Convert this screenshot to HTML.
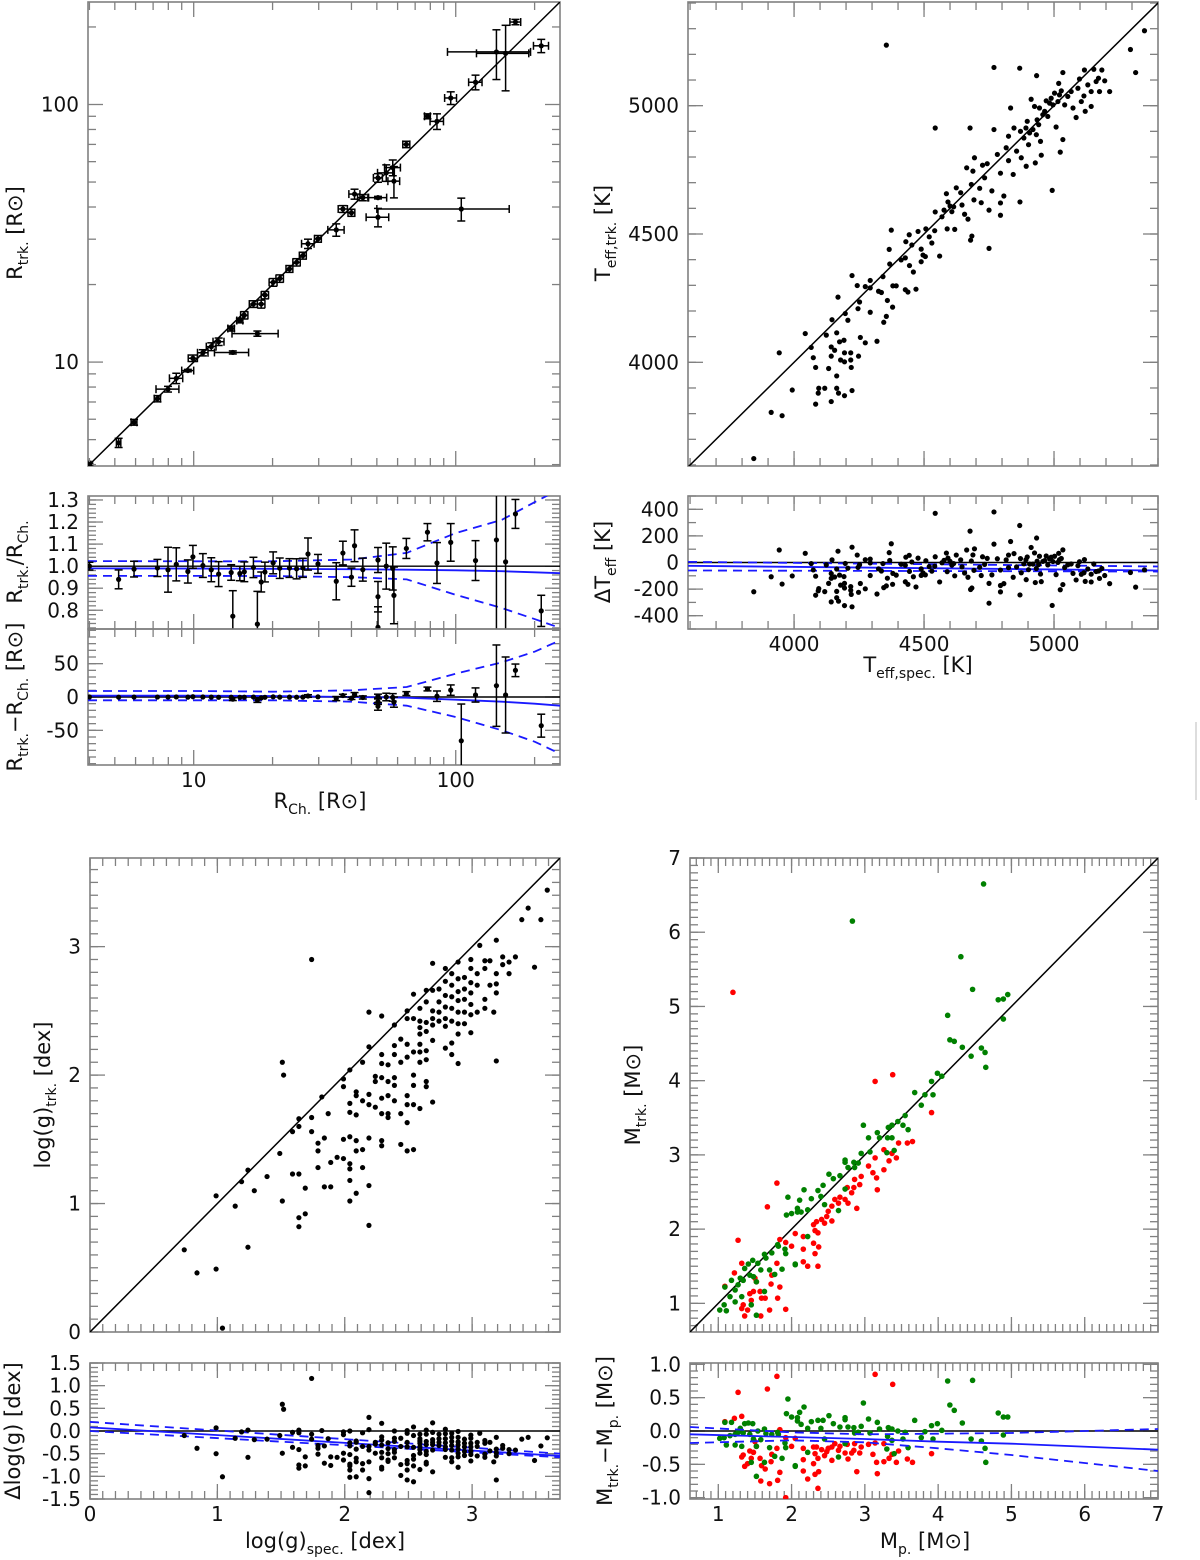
<!DOCTYPE html>
<html><head><meta charset="utf-8">
<style>
html,body{margin:0;padding:0;background:#fff;}
svg{display:block;font-family:"DejaVu Sans","Liberation Sans",sans-serif;}
</style></head>
<body>
<svg id="fig" width="1200" height="1560" viewBox="0 0 1200 1560" xmlns="http://www.w3.org/2000/svg">
<line x1="1196" y1="722" x2="1196" y2="800" stroke="#bbb" stroke-width="1"/>
</svg>
<script>
// ---------- Radius panel data ----------
const rCh  = [4.0,5.17,5.92,7.27,7.98,8.58,9.5,9.93,10.84,11.67,12.45,14.1,13.9,15.0,17.5,15.6,16.9,18.1,18.7,20.1,21.3,23.2,24.7,26.1,27.3,29.8,35.0,37.1,40.0,41.1,44.2,50.5,50.5,50.5,54.3,57.5,58.1,64.8,78.0,84.8,95.7,105,119,143,155,169,212];
const rTrk = [4.0,4.86,5.84,7.21,7.85,8.65,9.27,10.35,10.87,11.48,12.0,10.9,13.5,14.5,12.9,15.2,16.8,16.8,18.2,20.4,21.1,23.0,24.4,25.9,28.8,30.1,32.6,39.3,38.0,44.9,43.5,43.5,36.5,51.9,54.3,56.9,50.4,70.0,90.0,86.0,106,39.3,122,160,158,209,169];
const rErrX = [0.05,0.1,0.15,0.2,0.8,0.5,0.5,0.4,0.5,0.5,0.6,2.1,0.4,0.4,3.5,0.5,0.6,0.6,0.6,0.7,0.7,0.7,0.8,0.8,1.5,0.9,2.5,1.5,1.2,2,2,4,5,2,4,4,3,2,2,5,5,55,7,50,35,8,14];
const rErrY = [0.05,0.2,0.15,0.2,0.2,0.4,0.1,0.3,0.3,0.4,0.4,0.15,0.3,0.3,0.3,0.5,0.5,0.6,0.6,0.7,0.7,0.7,0.8,0.8,1.2,0.9,1.8,1.2,1.2,2,1.2,0.5,3,2,4,4,7,2,2,6,6,4,8,35,45,5,10];
const fitRX   = [3.95,10,20,40,65,100,150,200,250];
const fitRatM = [0.99,0.989,0.988,0.986,0.984,0.981,0.977,0.972,0.968];
const fitRatH = [1.023,1.022,1.022,1.03,1.06,1.15,1.21,1.29,1.35];
const fitRatL = [0.956,0.956,0.955,0.95,0.94,0.87,0.81,0.76,0.72];
const fitDifM = [2,2,1.5,0,-1,-4,-7,-10,-13];
const fitDifH = [9,9,8,10,15,35,52,68,85];
const fitDifL = [-5,-5,-5,-7,-13,-30,-50,-67,-85];

// ---------- Teff panel data ----------
const tSpec = [3845,3912,3954,3943,3993,4043,4066,4074,4083,4083,4093,4095,4118,4124,4133,4143,4143,4143,4146,4156,4164,4164,4164,4169,4171,4175,4179,4192,4194,4194,4194,4197,4207,4218,4218,4220,4223,4223,4243,4246,4248,4252,4255,4274,4274,4293,4293,4293,4319,4325,4336,4342,4345,4355,4359,4366,4368,4374,4379,4380,4393,4412,4428,4428,4438,4430,4443,4444,4453,4459,4469,4477,4489,4489,4496,4505,4507,4520,4530,4541,4543,4543,4560,4569,4577,4586,4589,4592,4600,4607,4614,4618,4624,4641,4646,4656,4664,4669,4677,4679,4682,4684,4688,4692,4694,4714,4720,4725,4733,4743,4750,4750,4761,4769,4769,4782,4794,4794,4794,4807,4816,4825,4825,4833,4843,4846,4856,4868,4869,4871,4874,4884,4892,4893,4897,4902,4906,4912,4919,4925,4928,4932,4933,4935,4941,4944,4948,4951,4957,4964,4970,4976,4983,4989,4993,4996,5002,5008,5015,5018,5021,5024,5028,5034,5034,5041,5053,5066,5073,5085,5092,5098,5105,5115,5117,5120,5130,5143,5143,5153,5162,5171,5175,5184,5195,5214,5294,5314,5348,4355];
const tTrk  = [3625,3805,3792,4037,3892,4112,4058,4018,3980,3837,3880,3899,3899,4106,3976,4060,4024,3847,4166,4047,4115,3947,3899,4254,3880,4080,4009,4086,4037,4002,3870,4190,4164,4037,4009,3980,3890,4338,4299,4209,4024,4235,4097,4295,4076,4319,4195,4290,4082,4277,4272,4334,4156,4179,4241,4440,4383,4515,4215,4298,4298,4399,4407,4283,4274,4470,4497,4377,4457,4352,4285,4510,4441,4392,4418,4412,4520,4489,4465,4513,4586,4913,4414,4567,4593,4657,4520,4625,4609,4587,4606,4518,4680,4661,4613,4577,4758,4558,4913,4476,4693,4492,4745,4633,4797,4678,4622,4768,4719,4774,4593,4444,4668,4907,5149,4810,4737,4621,4573,4648,4836,4786,4881,4991,4732,4913,4823,5146,4625,4900,4797,4874,4913,4764,4939,4848,4894,5025,4907,4997,4777,4887,5117,4945,4926,4991,4861,4807,4965,4978,5019,4958,5010,5029,4670,5003,5049,4917,5016,5087,5042,4819,5058,5129,4868,5003,5036,5055,4991,4954,5068,5104,5016,5038,5139,4978,5081,5055,4997,5142,5094,5107,5055,5139,5097,5055,5219,5129,5292,5236];
const fitTX = [3592,5400];
const fitTM = [-25,-60];
const fitTH = [5,-30];
const fitTL = [-60,-68];

// ---------- log g panel data ----------
const gSpec = [0.74,0.84,0.99,0.99,1.04,1.14,1.19,1.24,1.24,1.29,1.39,1.49,1.51,1.52,1.51,1.59,1.59,1.64,1.64,1.64,1.64,1.64,1.69,1.69,1.74,1.74,1.74,1.79,1.79,1.79,1.82,1.84,1.84,1.87,1.89,1.89,1.94,1.99,1.99,1.99,1.99,2.04,2.04,2.04,2.04,2.04,2.04,2.04,2.04,2.09,2.09,2.09,2.09,2.09,2.09,2.14,2.14,2.14,2.14,2.19,2.19,2.19,2.19,2.19,2.19,2.19,2.24,2.24,2.24,2.29,2.29,2.29,2.29,2.29,2.29,2.29,2.29,2.34,2.34,2.34,2.34,2.34,2.39,2.39,2.39,2.39,2.39,2.39,2.44,2.44,2.44,2.44,2.49,2.49,2.49,2.49,2.49,2.49,2.49,2.49,2.54,2.54,2.54,2.54,2.54,2.54,2.54,2.59,2.59,2.59,2.59,2.59,2.59,2.59,2.59,2.64,2.64,2.64,2.64,2.64,2.64,2.64,2.64,2.69,2.69,2.69,2.69,2.69,2.69,2.69,2.74,2.74,2.74,2.74,2.79,2.79,2.79,2.79,2.79,2.79,2.79,2.84,2.84,2.84,2.84,2.84,2.84,2.84,2.89,2.89,2.89,2.89,2.89,2.89,2.89,2.89,2.94,2.94,2.94,2.94,2.94,2.99,2.99,2.99,2.99,2.99,2.99,2.99,3.04,3.04,3.04,3.06,3.10,3.10,3.10,3.10,3.14,3.14,3.17,3.19,3.19,3.19,3.19,3.19,3.24,3.24,3.29,3.29,3.34,3.39,3.44,3.49,3.54,3.59];
const gTrk  = [0.64,0.46,0.49,1.06,0.03,0.98,1.17,1.26,0.66,1.10,1.21,1.39,2.10,2.00,1.02,1.23,1.56,1.23,1.60,1.66,0.89,0.82,1.12,0.92,1.67,2.90,1.56,1.47,1.41,1.28,1.83,1.51,1.13,1.70,1.32,1.13,1.36,1.97,1.50,1.35,1.91,2.04,1.78,1.71,1.52,1.31,1.27,1.18,1.02,1.87,1.84,1.69,1.49,1.41,1.08,2.10,1.80,1.42,1.28,2.49,2.22,1.85,1.77,1.51,1.14,0.83,1.99,1.95,1.75,2.46,2.16,2.09,1.98,1.82,1.70,1.49,1.45,2.08,1.95,1.84,1.70,1.67,2.39,2.23,2.16,1.98,1.92,1.80,2.28,2.10,1.70,1.46,2.50,2.44,2.24,2.14,1.84,1.77,1.63,1.41,2.63,2.44,2.18,2.00,1.92,1.77,1.42,2.52,2.42,2.37,2.32,2.24,2.18,2.10,1.74,2.66,2.57,2.41,2.34,2.19,2.12,1.95,1.91,2.87,2.66,2.50,2.44,2.39,2.27,1.79,2.67,2.57,2.49,2.42,2.83,2.73,2.62,2.53,2.44,2.38,2.21,2.79,2.70,2.61,2.52,2.42,2.25,2.16,2.88,2.75,2.65,2.58,2.49,2.40,2.32,2.09,2.76,2.67,2.59,2.49,2.40,2.90,2.83,2.72,2.64,2.55,2.47,2.33,2.79,2.70,2.49,3.01,2.89,2.83,2.59,2.52,2.89,2.70,2.49,3.05,2.79,2.71,2.64,2.11,2.92,2.86,2.88,2.79,2.92,3.21,3.30,2.84,3.21,3.44];
const fitGX = [0,3.69];
const fitGM = [0.08,-0.55];
const fitGH = [0.2,-0.5];
const fitGL = [0.0,-0.58];

// ---------- Mass panel data ----------
const mpG = [4.62,2.83,4.31,4.47,4.82,4.89,4.95,4.89,4.13,4.16,4.22,4.33,4.45,4.59,4.64,4.65,3.99,4.05,3.91,3.68,3.82,3.93,3.77,3.55,3.45,3.37,3.32,3.52,3.59,2.98,3.17,3.05,3.20,3.31,3.37,2.95,3.07,3.30,3.40,2.73,2.85,2.73,2.77,2.91,2.86,2.51,2.57,2.66,2.73,2.43,2.36,2.17,2.40,2.27,1.95,2.11,2.45,2.64,2.08,2.22,1.93,2.00,2.08,2.13,1.82,1.91,1.73,1.92,1.63,1.65,1.54,1.58,1.47,1.41,1.36,1.30,1.34,1.43,1.48,1.52,1.27,1.23,1.18,1.09,1.16,1.08,1.02,1.11,1.23,1.32,1.45,1.52,1.63,1.87,2.05,2.05,1.77,1.70,2.22,1.81];
const mtG = [6.65,6.15,5.67,5.23,5.09,5.10,5.16,4.83,4.88,4.55,4.53,4.45,4.33,4.44,4.38,4.18,4.10,4.06,3.99,3.84,3.81,3.81,3.67,3.53,3.45,3.40,3.37,3.40,3.34,3.40,3.30,3.23,3.23,3.23,3.23,3.02,3.04,3.03,3.06,2.93,2.90,2.90,2.83,2.89,2.83,2.74,2.68,2.72,2.54,2.59,2.52,2.53,2.44,2.41,2.43,2.39,2.33,2.25,2.28,2.26,2.19,2.21,2.23,2.23,1.77,1.73,1.68,1.67,1.66,1.61,1.54,1.45,1.58,1.53,1.47,1.34,1.31,1.38,1.36,1.29,1.25,1.18,1.31,1.22,1.09,0.98,0.91,0.90,1.02,1.09,0.98,0.84,1.16,1.46,1.53,1.52,1.39,1.45,1.90,1.79];
const mpR = [1.20,3.14,3.38,3.91,3.58,3.65,3.46,3.26,3.37,3.43,3.33,3.26,3.14,3.11,3.16,3.05,2.95,2.86,2.93,2.85,2.76,3.17,2.82,2.73,2.77,2.89,2.66,2.59,2.64,2.55,2.50,2.48,2.45,2.41,2.55,2.34,2.30,2.36,2.32,2.16,2.05,2.00,1.92,1.84,1.80,1.67,2.16,2.30,2.37,2.32,2.16,2.22,2.36,1.80,1.73,1.72,1.84,1.81,1.92,1.70,1.59,1.64,1.57,1.48,1.43,1.52,1.50,1.32,1.27,1.22,1.09,1.34,1.32,1.36,1.58,1.40,1.45];
const mtR = [5.19,3.99,4.08,3.57,3.16,3.18,3.16,3.07,3.02,2.96,2.92,2.80,2.96,2.76,2.69,2.85,2.71,2.67,2.60,2.56,2.56,2.53,2.49,2.40,2.35,2.28,2.43,2.40,2.35,2.31,2.24,2.17,2.08,2.13,2.11,2.10,2.06,1.95,1.98,1.90,1.94,1.77,1.82,1.86,2.62,2.30,1.73,1.81,1.76,1.67,1.56,1.50,1.50,1.54,1.38,1.26,1.22,1.07,0.92,0.91,1.07,1.07,1.16,1.16,1.13,1.29,1.34,1.54,1.85,1.41,1.23,0.98,0.93,0.83,0.83,0.91,1.04];
const fitMX = [0.614,2,3,4,5,7];
const fitMM = [-0.05,-0.09,-0.12,-0.16,-0.19,-0.28];
const fitMH = [0.06,-0.02,-0.05,-0.04,-0.03,0.03];
const fitML = [-0.18,-0.14,-0.17,-0.26,-0.36,-0.60];

// ---------- drawing helpers ----------
const NS = "http://www.w3.org/2000/svg";
const svg = document.getElementById('fig');
function mk(tag, attrs, parent) {
  const e = document.createElementNS(NS, tag);
  for (const k in attrs) e.setAttribute(k, attrs[k]);
  (parent || svg).appendChild(e);
  return e;
}
function linS(d0, d1, p0, p1) { return v => p0 + (v - d0) / (d1 - d0) * (p1 - p0); }
function logS(d0, d1, p0, p1) { return v => p0 + (Math.log10(v) - Math.log10(d0)) / (Math.log10(d1) - Math.log10(d0)) * (p1 - p0); }
let clipId = 0;

function panel(name, P) {
  const g = mk('g', {});
  
  
  const id = 'clip' + (clipId++);
  const cp = mk('clipPath', {id: id}, g);
  mk('rect', {x: P.x0, y: P.y0, width: P.x1 - P.x0, height: P.y1 - P.y0}, cp);
  const tg = mk('g', {stroke: '#808080', 'stroke-width': 1.3}, g);
  
  
  function xt(v, len) {
    const x = P.sx(v);
    if (x < P.x0 - 0.5 || x > P.x1 + 0.5) return;
    mk('line', {x1: x, y1: P.y1, x2: x, y2: P.y1 - len}, tg);
    mk('line', {x1: x, y1: P.y0, x2: x, y2: P.y0 + len}, tg);
  }
  function yt(v, len) {
    const y = P.sy(v);
    if (y < P.y0 - 0.5 || y > P.y1 + 0.5) return;
    mk('line', {x1: P.x0, y1: y, x2: P.x0 + len, y2: y}, tg);
    mk('line', {x1: P.x1, y1: y, x2: P.x1 - len, y2: y}, tg);
  }
  (P.xMaj || []).forEach(v => xt(v, 15));
  (P.xMin || []).forEach(v => xt(v, 8));
  (P.yMaj || []).forEach(v => yt(v, 15));
  (P.yMin || []).forEach(v => yt(v, 8));
  const fr = mk('rect', {x: P.x0, y: P.y0, width: P.x1 - P.x0, height: P.y1 - P.y0, fill: 'none', stroke: '#808080', 'stroke-width': 1.6}, g);
  
  
  (P.yLab || []).forEach(([v, s]) => {
    const t = mk('text', {x: P.x0 - 9, y: P.sy(v) + 7, 'text-anchor': 'end', 'font-size': 20, fill: '#111'}, g);
    t.textContent = s;
    
    
  });
  (P.xLab || []).forEach(([v, s]) => {
    const t = mk('text', {x: P.sx(v), y: P.y1 + 22, 'text-anchor': 'middle', 'font-size': 20, fill: '#111'}, g);
    t.textContent = s;
    
    
  });
  const body = mk('g', {'clip-path': 'url(#' + id + ')'}, g);
  return body;
}
function rng(a, b, s) { const r = []; for (let v = a; v <= b + 1e-9; v += s) r.push(+v.toFixed(6)); return r; }
function logMinors(a, b) { const r = []; for (let d = 0; d <= 3; d++) for (let k = 2; k <= 9; k++) { const v = k * Math.pow(10, d); if (v >= a && v <= b) r.push(v); } return r; }
function dot(parent, x, y, color, r, nm) {
  const c = mk('circle', {cx: x, cy: y, r: r || 2.6, fill: color || '#000'}, parent);
  
  
  return c;
}
function hline(parent, P, v, nm) {
  const l = mk('line', {x1: P.x0, x2: P.x1, y1: P.sy(v), y2: P.sy(v), stroke: '#000', 'stroke-width': 1.4}, parent);
  
  
}
function curve(parent, P, xs, ys, dashed, nm) {
  const pts = xs.map((x, i) => P.sx(x).toFixed(2) + ',' + P.sy(ys[i]).toFixed(2)).join(' ');
  const l = mk('polyline', {points: pts, fill: 'none', stroke: '#1a1aff', 'stroke-width': 1.8}, parent);
  if (dashed) l.setAttribute('stroke-dasharray', '9,6');
  
  
}
function diag(parent, P, a, b, nm) {
  const l = mk('line', {x1: P.sx(a), y1: P.sy(a), x2: P.sx(b), y2: P.sy(b), stroke: '#000', 'stroke-width': 1.5}, parent);
  
  
}
function errbar(parent, x, y, xlo, xhi, ylo, yhi) {
  const g = mk('g', {stroke: '#000', 'stroke-width': 1.5}, parent);
  
  
  if (Math.abs(xhi - xlo) > 2) {
    mk('line', {x1: xlo, y1: y, x2: xhi, y2: y}, g);
    mk('line', {x1: xlo, y1: y - 4, x2: xlo, y2: y + 4}, g);
    mk('line', {x1: xhi, y1: y - 4, x2: xhi, y2: y + 4}, g);
  }
  if (Math.abs(yhi - ylo) > 2) {
    mk('line', {x1: x, y1: ylo, x2: x, y2: yhi}, g);
    mk('line', {x1: x - 4, y1: ylo, x2: x + 4, y2: ylo}, g);
    mk('line', {x1: x - 4, y1: yhi, x2: x + 4, y2: yhi}, g);
  }
}
function label(x, y, rot, parts, nm) {
  const t = mk('text', {transform: 'translate(' + x + ',' + y + ')' + (rot ? ' rotate(-90)' : ''), 'text-anchor': 'middle', 'font-size': 21, fill: '#111'});
  parts.forEach(p => {
    const s = mk('tspan', {}, t);
    if (p[1] === 'sub') { s.setAttribute('font-size', 14); s.setAttribute('dy', 6); }
    else if (p[1] === 'up') { s.setAttribute('dy', -6); }
    s.textContent = p[0];
  });
  
  
}

// ---------- Panel A: R_trk vs R_Ch ----------
const RD = [3.95, 250];
const PA = {x0: 88, x1: 560, y0: 2, y1: 466};
PA.sx = logS(RD[0], RD[1], PA.x0, PA.x1); PA.sy = logS(RD[0], RD[1], PA.y1, PA.y0);
PA.xMaj = [10, 100]; PA.xMin = logMinors(RD[0], RD[1]);
PA.yMaj = [10, 100]; PA.yMin = logMinors(RD[0], RD[1]);
PA.yLab = [[10, '10'], [100, '100']];
const bA = panel('radius-panel', PA);
diag(bA, PA, RD[0], RD[1], 'one-to-one-line');
rCh.forEach((x, i) => {
  const y = rTrk[i];
  errbar(bA, PA.sx(x), PA.sy(y), PA.sx(Math.max(x - rErrX[i], 1)), PA.sx(x + rErrX[i]), PA.sy(Math.max(y - rErrY[i], 1)), PA.sy(y + rErrY[i]));
  dot(bA, PA.sx(x), PA.sy(y), '#000', 2.6, 'radius-point');
});
label(22, 233, true, [['R'], ['trk.', 'sub'], [' [R', 'up'], ['⊙'], [']']], 'y-axis-title-radius');

// ---------- Panel B: ratio ----------
const PB = {x0: 88, x1: 560, y0: 496, y1: 629};
PB.sx = PA.sx; PB.sy = linS(0.715, 1.318, PB.y1, PB.y0);
PB.xMaj = [10, 100]; PB.xMin = PA.xMin;
PB.yMaj = rng(0.8, 1.3, 0.1); PB.yMin = rng(0.72, 1.30, 0.02);
PB.yLab = [[1.3, '1.3'], [1.2, '1.2'], [1.1, '1.1'], [1.0, '1.0'], [0.9, '0.9'], [0.8, '0.8']];
const bB = panel('radius-ratio-panel', PB);
hline(bB, PB, 1, 'unity-line');
curve(bB, PB, fitRX, fitRatM, false, 'ratio-fit-line');
curve(bB, PB, fitRX, fitRatH, true, 'ratio-fit-upper');
curve(bB, PB, fitRX, fitRatL, true, 'ratio-fit-lower');
rCh.forEach((x, i) => {
  const r = rTrk[i] / x;
  const e = r * Math.sqrt(Math.pow(rErrX[i] / x, 2) + Math.pow(rErrY[i] / rTrk[i], 2));
  errbar(bB, PB.sx(x), PB.sy(r), 0, 0, PB.sy(r - e), PB.sy(r + e));
  dot(bB, PB.sx(x), PB.sy(r), '#000', 2.6, 'ratio-point');
});
label(22, 562, true, [['R'], ['trk.', 'sub'], ['/R', 'up'], ['Ch.', 'sub']], 'y-axis-title-ratio');

// ---------- Panel C: difference ----------
const PC = {x0: 88, x1: 560, y0: 629, y1: 765};
PC.sx = PA.sx; PC.sy = linS(-102, 102, PC.y1, PC.y0);
PC.xMaj = [10, 100]; PC.xMin = PA.xMin;
PC.yMaj = [-50, 0, 50]; PC.yMin = rng(-100, 100, 10);
PC.yLab = [[50, '50'], [0, '0'], [-50, '-50']];
PC.xLab = [[10, '10'], [100, '100']];
const bC = panel('radius-difference-panel', PC);
hline(bC, PC, 0, 'zero-line');
curve(bC, PC, fitRX, fitDifM, false, 'diff-fit-line');
curve(bC, PC, fitRX, fitDifH, true, 'diff-fit-upper');
curve(bC, PC, fitRX, fitDifL, true, 'diff-fit-lower');
rCh.forEach((x, i) => {
  const d = rTrk[i] - x;
  const e = Math.sqrt(rErrX[i] * rErrX[i] + rErrY[i] * rErrY[i]);
  errbar(bC, PC.sx(x), PC.sy(d), 0, 0, PC.sy(d - e), PC.sy(d + e));
  dot(bC, PC.sx(x), PC.sy(d), '#000', 2.6, 'difference-point');
});
label(22, 697, true, [['R'], ['trk.', 'sub'], ['−R', 'up'], ['Ch.', 'sub'], [' [R', 'up'], ['⊙'], [']']], 'y-axis-title-difference');
label(320, 808, false, [['R'], ['Ch.', 'sub'], ['  [R', 'up'], ['⊙'], [']']], 'x-axis-title-radius');

// ---------- Panel D: Teff ----------
const PD = {x0: 688, x1: 1158, y0: 2, y1: 466};
PD.sx = linS(3592, 5400, PD.x0, PD.x1); PD.sy = linS(3596, 5404, PD.y1, PD.y0);
PD.xMaj = [4000, 4500, 5000]; PD.xMin = rng(3600, 5400, 100);
PD.yMaj = [4000, 4500, 5000]; PD.yMin = rng(3600, 5400, 100);
PD.yLab = [[5000, '5000'], [4500, '4500'], [4000, '4000']];
const bD = panel('teff-panel', PD);
diag(bD, PD, 3592, 5404, 'one-to-one-line');
tSpec.forEach((x, i) => dot(bD, PD.sx(x), PD.sy(tTrk[i]), '#000', 2.6, 'teff-point'));
label(610, 233, true, [['T'], ['eff,trk.', 'sub'], [' [K]', 'up']], 'y-axis-title-teff');

// ---------- Panel E: delta Teff ----------
const PE = {x0: 688, x1: 1158, y0: 496, y1: 629};
PE.sx = PD.sx; PE.sy = linS(-500, 500, PE.y1, PE.y0);
PE.xMaj = [4000, 4500, 5000]; PE.xMin = rng(3600, 5400, 100);
PE.yMaj = [-400, -200, 0, 200, 400]; PE.yMin = rng(-500, 500, 100);
PE.yLab = [[400, '400'], [200, '200'], [0, '0'], [-200, '-200'], [-400, '-400']];
PE.xLab = [[4000, '4000'], [4500, '4500'], [5000, '5000']];
const bE = panel('delta-teff-panel', PE);
hline(bE, PE, 0, 'zero-line');
curve(bE, PE, fitTX, fitTM, false, 'teff-fit-line');
curve(bE, PE, fitTX, fitTH, true, 'teff-fit-upper');
curve(bE, PE, fitTX, fitTL, true, 'teff-fit-lower');
tSpec.forEach((x, i) => dot(bE, PE.sx(x), PE.sy(tTrk[i] - x), '#000', 2.6, 'delta-teff-point'));
label(610, 562, true, [['ΔT'], ['eff', 'sub'], [' [K]', 'up']], 'y-axis-title-delta-teff');
label(918, 672, false, [['T'], ['eff,spec.', 'sub'], [' [K]', 'up']], 'x-axis-title-teff');

// ---------- Panel F: log g ----------
const PF = {x0: 90, x1: 560, y0: 858, y1: 1332};
PF.sx = linS(0, 3.69, PF.x0, PF.x1); PF.sy = linS(0, 3.69, PF.y1, PF.y0);
PF.xMaj = [0, 1, 2, 3]; PF.xMin = rng(0, 3.6, 0.1);
PF.yMaj = [0, 1, 2, 3]; PF.yMin = rng(0, 3.6, 0.1);
PF.yLab = [[3, '3'], [2, '2'], [1, '1'], [0, '0']];
const bF = panel('logg-panel', PF);
diag(bF, PF, 0, 3.69, 'one-to-one-line');
gSpec.forEach((x, i) => dot(bF, PF.sx(x), PF.sy(gTrk[i]), '#000', 2.6, 'logg-point'));
label(50, 1095, true, [['log(g)'], ['trk.', 'sub'], [' [dex]', 'up']], 'y-axis-title-logg');

// ---------- Panel G: delta log g ----------
const PG = {x0: 90, x1: 560, y0: 1363, y1: 1499};
PG.sx = PF.sx; PG.sy = linS(-1.5, 1.5, PG.y1, PG.y0);
PG.xMaj = [0, 1, 2, 3]; PG.xMin = rng(0, 3.6, 0.1);
PG.yMaj = rng(-1.5, 1.5, 0.5); PG.yMin = rng(-1.5, 1.5, 0.1);
PG.yLab = [[1.5, '1.5'], [1, '1.0'], [0.5, '0.5'], [0, '0.0'], [-0.5, '-0.5'], [-1, '-1.0'], [-1.5, '-1.5']];
PG.xLab = [[0, '0'], [1, '1'], [2, '2'], [3, '3']];
const bG = panel('delta-logg-panel', PG);
hline(bG, PG, 0, 'zero-line');
curve(bG, PG, fitGX, fitGM, false, 'logg-fit-line');
curve(bG, PG, fitGX, fitGH, true, 'logg-fit-upper');
curve(bG, PG, fitGX, fitGL, true, 'logg-fit-lower');
gSpec.forEach((x, i) => dot(bG, PG.sx(x), PG.sy(gTrk[i] - x), '#000', 2.6, 'delta-logg-point'));
label(20, 1431, true, [['Δlog(g) [dex]']], 'y-axis-title-delta-logg');
label(325, 1548, false, [['log(g)'], ['spec.', 'sub'], [' [dex]', 'up']], 'x-axis-title-logg');

// ---------- Panel H: mass ----------
const PH = {x0: 690, x1: 1158, y0: 858, y1: 1332};
PH.sx = linS(0.614, 7.0, PH.x0, PH.x1); PH.sy = linS(0.614, 7.0, PH.y1, PH.y0);
PH.xMaj = [1, 2, 3, 4, 5, 6, 7]; PH.xMin = rng(0.7, 7, 0.1);
PH.yMaj = [1, 2, 3, 4, 5, 6, 7]; PH.yMin = rng(0.7, 7, 0.1);
PH.yLab = [[7, '7'], [6, '6'], [5, '5'], [4, '4'], [3, '3'], [2, '2'], [1, '1']];
const bH = panel('mass-panel', PH);
diag(bH, PH, 0.614, 7.0, 'one-to-one-line');
mpR.forEach((x, i) => dot(bH, PH.sx(x), PH.sy(mtR[i]), '#ff0000', 2.8, 'mass-point-red'));
mpG.forEach((x, i) => dot(bH, PH.sx(x), PH.sy(mtG[i]), '#008000', 2.8, 'mass-point-green'));
label(640, 1095, true, [['M'], ['trk.', 'sub'], [' [M', 'up'], ['⊙'], [']']], 'y-axis-title-mass');

// ---------- Panel I: delta mass ----------
const PI = {x0: 690, x1: 1158, y0: 1363, y1: 1499};
PI.sx = PH.sx; PI.sy = linS(-1.02, 1.02, PI.y1, PI.y0);
PI.xMaj = [1, 2, 3, 4, 5, 6, 7]; PI.xMin = rng(0.7, 7, 0.1);
PI.yMaj = [-1, -0.5, 0, 0.5, 1]; PI.yMin = rng(-1, 1, 0.1);
PI.yLab = [[1, '1.0'], [0.5, '0.5'], [0, '0.0'], [-0.5, '-0.5'], [-1, '-1.0']];
PI.xLab = [[1, '1'], [2, '2'], [3, '3'], [4, '4'], [5, '5'], [6, '6'], [7, '7']];
const bI = panel('delta-mass-panel', PI);
hline(bI, PI, 0, 'zero-line');
mpR.forEach((x, i) => dot(bI, PI.sx(x), PI.sy(mtR[i] - x), '#ff0000', 2.8, 'delta-mass-point-red'));
mpG.forEach((x, i) => dot(bI, PI.sx(x), PI.sy(mtG[i] - x), '#008000', 2.8, 'delta-mass-point-green'));
curve(bI, PI, fitMX, fitMM, false, 'mass-fit-line');
curve(bI, PI, fitMX, fitMH, true, 'mass-fit-upper');
curve(bI, PI, fitMX, fitML, true, 'mass-fit-lower');
label(612, 1431, true, [['M'], ['trk.', 'sub'], ['−M', 'up'], ['p.', 'sub'], [' [M', 'up'], ['⊙'], [']']], 'y-axis-title-delta-mass');
label(925, 1548, false, [['M'], ['p.', 'sub'], [' [M', 'up'], ['⊙'], [']']], 'x-axis-title-mass');
</script>
</body></html>
